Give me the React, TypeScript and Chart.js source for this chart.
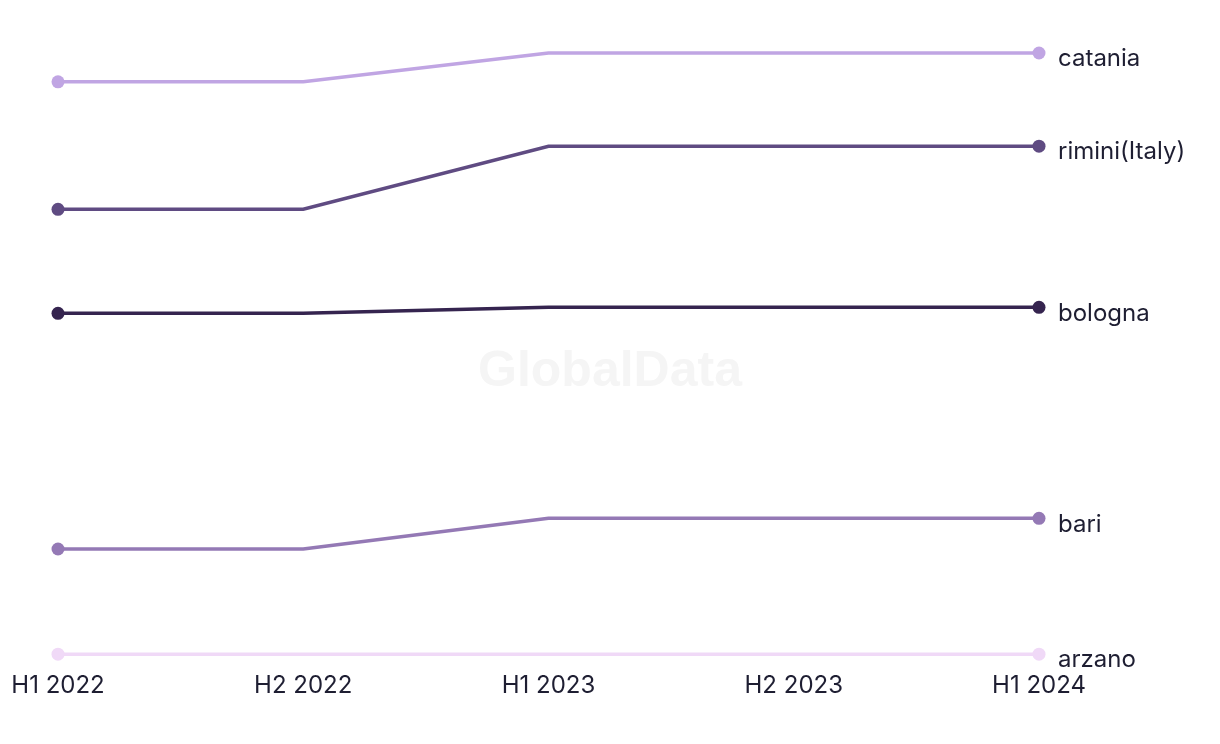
import React, { useEffect, useRef } from "react";
import { Chart, registerables } from "chart.js";

Chart.register(...registerables);

const categories = ["H1 2022", "H2 2022", "H1 2023", "H2 2023", "H1 2024"];
const seriesNames = ["catania", "rimini(Italy)", "bologna", "bari", "arzano"];
const catania = [95.2, 95.2, 100, 100, 100];
const rimini = [74.0, 74.0, 84.5, 84.5, 84.5];
const bologna = [56.7, 56.7, 57.7, 57.7, 57.7];
const bari = [17.5, 17.5, 22.6, 22.6, 22.6];
const arzano = [0, 0, 0, 0, 0];
const colors = ["#c0a5e3", "#5f4b82", "#35244f", "#9479b5", "#f0d9f7"];

const FONT = "Inter, 'Noto Sans', sans-serif";
const TEXT = "#1e1e32";

const endLabels = {
  id: "endLabels",
  afterDatasetsDraw(chart: any) {
    const ctx = chart.ctx;
    ctx.save();
    ctx.font = `24px ${FONT}`;
    ctx.fillStyle = TEXT;
    ctx.textBaseline = "middle";
    ctx.textAlign = "left";
    chart.data.datasets.forEach((ds: any, i: number) => {
      const meta = chart.getDatasetMeta(i);
      const pt = meta.data[meta.data.length - 1];
      ctx.fillText(ds.label, pt.x + 19, pt.y + 6);
    });
    ctx.restore();
  },
};

const watermark = {
  id: "watermark",
  beforeDatasetsDraw(chart: any) {
    const ctx = chart.ctx;
    ctx.save();
    ctx.font = `bold 50px 'Liberation Sans', Arial, sans-serif`;
    ctx.fillStyle = "#f5f5f5";
    ctx.textAlign = "center";
    ctx.textBaseline = "middle";
    ctx.fillText("GlobalData", 610, 372);
    ctx.restore();
  },
};

export default function App() {
  const ref = useRef<HTMLCanvasElement>(null);
  useEffect(() => {
    if (!ref.current) return;
    const values = [catania, rimini, bologna, bari, arzano];
    const chart = new Chart(ref.current, {
      type: "line",
      data: {
        labels: categories,
        datasets: values.map((v, i) => ({
          label: seriesNames[i],
          data: v,
          borderColor: colors[i],
          backgroundColor: colors[i],
          borderWidth: 3.5,
          pointRadius: v.map((_, j) => (j === 0 || j === v.length - 1 ? 6.5 : 0)),
          pointHoverRadius: 6.5,
          pointBorderWidth: 0,
          tension: 0,
          clip: false as any,
        })),
      },
      options: {
        animation: false,
        responsive: false,
        layout: { padding: { left: 58, right: 181, top: 53, bottom: 35 } },
        plugins: { legend: { display: false }, tooltip: { enabled: false } },
        scales: {
          x: {
            offset: false,
            grid: { display: false },
            border: { display: false },
            ticks: {
              color: TEXT,
              font: { family: FONT, size: 24 },
              padding: 9,
              maxRotation: 0,
            },
          },
          y: {
            display: false,
            min: 0,
            max: 100,
          },
        },
      },
      plugins: [watermark, endLabels],
    });
    return () => chart.destroy();
  }, []);
  return (
    <div style={{ position: "fixed", left: 0, top: 0, width: 1220, height: 744, background: "#fff" }}>
      <canvas ref={ref} width={1220} height={744} style={{ width: 1220, height: 744 }} />
    </div>
  );
}
